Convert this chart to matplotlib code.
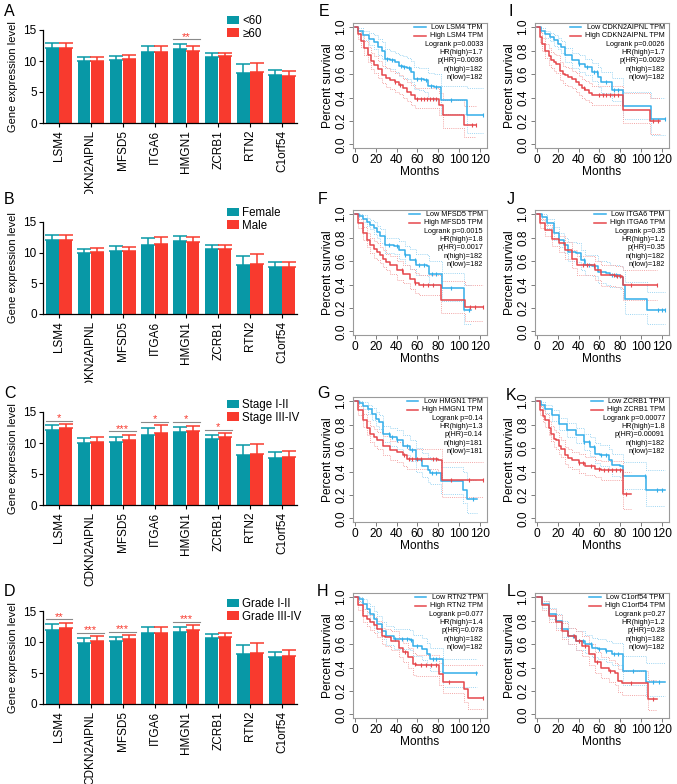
import numpy as np
import matplotlib
matplotlib.use('Agg')
import matplotlib.pyplot as plt
from matplotlib.patches import Patch
from matplotlib.transforms import Bbox, TransformedBbox

plt.rcParams['font.family'] = ['Liberation Sans', 'DejaVu Sans']

# ---------------- bar chart data ----------------
genes = ['LSM4', 'CDKN2AIPNL', 'MFSD5', 'ITGA6', 'HMGN1', 'ZCRB1', 'RTN2', 'C1orf54']

A_labels = ['<60', '≥60']
A_m1 = [12.1, 10.0, 10.2, 11.4, 11.9, 10.6, 8.0, 7.8]
A_s1 = [0.8, 0.7, 0.65, 1.1, 0.8, 0.65, 1.55, 0.75]
A_m2 = [12.1, 10.0, 10.35, 11.4, 11.6, 10.75, 8.25, 7.65]
A_s2 = [0.8, 0.65, 0.6, 0.95, 0.85, 0.6, 1.5, 0.75]
A_sig = [(4, '**', 13.5)]

B_labels = ['Female', 'Male']
B_m1 = [12.13, 9.9, 10.34, 11.3, 11.86, 10.67, 7.96, 7.74]
B_s1 = [0.81, 0.77, 0.7, 1.1, 0.81, 0.63, 1.57, 0.81]
B_m2 = [12.13, 10.07, 10.23, 11.47, 11.7, 10.67, 8.23, 7.69]
B_s2 = [0.81, 0.76, 0.65, 1.03, 0.8, 0.63, 1.57, 0.86]
B_sig = []

C_labels = ['Stage I-II', 'Stage III-IV']
C_m1 = [12.14, 9.98, 10.15, 11.28, 11.71, 10.69, 8.1, 7.66]
C_s1 = [0.81, 0.81, 0.75, 1.13, 0.81, 0.64, 1.56, 0.92]
C_m2 = [12.41, 10.15, 10.52, 11.66, 11.98, 10.9, 8.26, 7.72]
C_s2 = [0.7, 0.75, 0.76, 1.18, 0.81, 0.65, 1.51, 1.02]
C_sig = [(0, '*', 13.6), (2, '***', 11.9), (3, '*', 13.45), (4, '*', 13.45), (5, '*', 12.15)]

D_labels = ['Grade I-II', 'Grade III-IV']
D_m1 = [11.99, 9.89, 10.22, 11.4, 11.67, 10.7, 8.06, 7.63]
D_s1 = [0.86, 0.7, 0.59, 0.97, 0.75, 0.59, 1.51, 0.76]
D_m2 = [12.31, 10.22, 10.48, 11.5, 11.94, 10.81, 8.28, 7.8]
D_s2 = [0.7, 0.69, 0.65, 0.97, 0.75, 0.59, 1.5, 0.91]
D_sig = [(0, '**', 13.65), (1, '***', 11.5), (2, '***', 11.65), (4, '***', 13.25)]

# ---------------- Kaplan-Meier data ----------------
km_genes = ['LSM4', 'MFSD5', 'HMGN1', 'RTN2', 'CDKN2AIPNL', 'ITGA6', 'ZCRB1', 'C1orf54']
logrank_p = ['0.0033', '0.0015', '0.14', '0.077', '0.0026', '0.35', '0.00077', '0.27']
hr_high = ['1.7', '1.8', '1.3', '1.4', '1.7', '1.2', '1.8', '1.2']
p_hr = ['0.0036', '0.0017', '0.14', '0.078', '0.0029', '0.35', '0.00091', '0.28']
n_high = ['182', '182', '181', '182', '182', '182', '182', '182']
n_low = ['182', '182', '181', '182', '182', '182', '182', '182']

# E  LSM4
E_low_t = [0, 3, 8, 13, 18, 22, 26, 29, 34, 38, 42, 46, 50, 54, 57, 62, 66, 70, 76, 83, 108, 123]
E_low_s = [1.0, 0.97, 0.93, 0.90, 0.87, 0.83, 0.80, 0.73, 0.72, 0.70, 0.67, 0.66, 0.65, 0.62, 0.56, 0.555, 0.55, 0.50, 0.49, 0.38, 0.25, 0.25]
E_low_up = [1.0, 0.99, 0.97, 0.95, 0.93, 0.90, 0.87, 0.81, 0.80, 0.78, 0.76, 0.75, 0.74, 0.71, 0.66, 0.655, 0.65, 0.61, 0.60, 0.50, 0.48, 0.48]
E_low_lo = [1.0, 0.95, 0.89, 0.85, 0.81, 0.76, 0.73, 0.65, 0.64, 0.62, 0.58, 0.57, 0.56, 0.53, 0.47, 0.46, 0.45, 0.40, 0.38, 0.26, 0.10, 0.10]
E_low_c = [31, 36, 44, 47, 52, 60, 63, 68, 73, 78, 92, 123]
E_high_t = [0, 3, 6, 9, 12, 15, 18, 22, 26, 30, 34, 38, 42, 46, 50, 54, 58, 81, 85, 105, 116]
E_high_s = [1.0, 0.94, 0.88, 0.82, 0.76, 0.71, 0.68, 0.64, 0.59, 0.57, 0.55, 0.53, 0.51, 0.48, 0.45, 0.42, 0.39, 0.34, 0.25, 0.165, 0.165]
E_high_up = [1.0, 0.97, 0.93, 0.88, 0.83, 0.78, 0.75, 0.71, 0.67, 0.65, 0.63, 0.61, 0.59, 0.56, 0.53, 0.51, 0.48, 0.44, 0.38, 0.33, 0.33]
E_high_lo = [1.0, 0.90, 0.83, 0.76, 0.70, 0.64, 0.61, 0.57, 0.52, 0.49, 0.47, 0.45, 0.43, 0.40, 0.37, 0.34, 0.31, 0.25, 0.14, 0.06, 0.06]
E_high_c = [38, 43, 60, 63, 66, 69, 72, 75, 78, 113, 116]

# F  MFSD5
F_low_t = [0, 4, 8, 11, 14, 18, 21, 24, 29, 37, 42, 48, 53, 59, 69, 71, 84, 105, 112]
F_low_s = [1.0, 0.98, 0.96, 0.935, 0.91, 0.88, 0.85, 0.81, 0.735, 0.73, 0.69, 0.65, 0.61, 0.565, 0.555, 0.49, 0.37, 0.185, 0.185]
F_low_up = [1.0, 1.0, 0.99, 0.97, 0.95, 0.93, 0.90, 0.87, 0.80, 0.80, 0.77, 0.73, 0.70, 0.66, 0.65, 0.60, 0.50, 0.40, 0.40]
F_low_lo = [1.0, 0.96, 0.93, 0.90, 0.87, 0.83, 0.80, 0.75, 0.67, 0.66, 0.62, 0.57, 0.53, 0.48, 0.47, 0.40, 0.26, 0.06, 0.06]
F_low_c = [33, 40, 48, 58, 62, 66, 74, 78, 92, 110]
F_high_t = [0, 3, 8, 11, 14, 18, 21, 24, 27, 30, 34, 40, 46, 53, 58, 62, 83, 106, 123]
F_high_s = [1.0, 0.92, 0.835, 0.78, 0.735, 0.70, 0.68, 0.65, 0.62, 0.59, 0.565, 0.52, 0.49, 0.445, 0.41, 0.395, 0.265, 0.205, 0.205]
F_high_up = [1.0, 0.96, 0.89, 0.84, 0.80, 0.77, 0.75, 0.72, 0.69, 0.66, 0.64, 0.60, 0.57, 0.53, 0.50, 0.48, 0.43, 0.40, 0.40]
F_high_lo = [1.0, 0.88, 0.78, 0.72, 0.67, 0.63, 0.61, 0.58, 0.55, 0.52, 0.49, 0.44, 0.41, 0.36, 0.33, 0.31, 0.16, 0.09, 0.09]
F_high_c = [45, 58, 65, 70, 75, 111, 115, 123]

# G  HMGN1
G_low_t = [0, 4, 8, 12, 16, 20, 23, 27, 34, 40, 46, 53, 59, 64, 70, 72, 83, 104, 108, 117]
G_low_s = [1.0, 0.98, 0.96, 0.93, 0.89, 0.85, 0.82, 0.72, 0.69, 0.665, 0.62, 0.58, 0.495, 0.45, 0.41, 0.39, 0.32, 0.24, 0.165, 0.165]
G_low_up = [1.0, 1.0, 0.99, 0.97, 0.94, 0.91, 0.88, 0.79, 0.77, 0.75, 0.71, 0.67, 0.60, 0.56, 0.52, 0.50, 0.44, 0.40, 0.33, 0.33]
G_low_lo = [1.0, 0.96, 0.93, 0.89, 0.84, 0.79, 0.76, 0.65, 0.62, 0.59, 0.54, 0.49, 0.40, 0.35, 0.31, 0.29, 0.21, 0.13, 0.05, 0.05]
G_low_c = [33, 36, 40, 50, 55, 74, 78, 114]
G_high_t = [0, 3, 8, 11, 14, 18, 21, 27, 34, 40, 46, 50, 80, 84, 123]
G_high_s = [1.0, 0.92, 0.835, 0.77, 0.72, 0.69, 0.665, 0.62, 0.58, 0.565, 0.54, 0.505, 0.495, 0.325, 0.325]
G_high_up = [1.0, 0.96, 0.89, 0.83, 0.79, 0.76, 0.74, 0.70, 0.66, 0.65, 0.62, 0.59, 0.59, 0.48, 0.48]
G_high_lo = [1.0, 0.88, 0.78, 0.71, 0.65, 0.62, 0.59, 0.54, 0.50, 0.48, 0.45, 0.42, 0.40, 0.18, 0.18]
G_high_c = [47, 52, 55, 60, 63, 75, 78, 92, 110, 123]

# H  RTN2
H_low_t = [0, 4, 8, 11, 14, 18, 21, 26, 30, 37, 53, 56, 64, 69, 72, 85, 117]
H_low_s = [1.0, 0.98, 0.94, 0.90, 0.857, 0.81, 0.77, 0.714, 0.67, 0.643, 0.637, 0.586, 0.557, 0.514, 0.47, 0.35, 0.35]
H_low_up = [1.0, 1.0, 0.98, 0.95, 0.92, 0.88, 0.84, 0.79, 0.75, 0.73, 0.72, 0.68, 0.65, 0.61, 0.57, 0.47, 0.47]
H_low_lo = [1.0, 0.96, 0.90, 0.85, 0.80, 0.74, 0.70, 0.64, 0.59, 0.56, 0.55, 0.50, 0.46, 0.42, 0.37, 0.23, 0.23]
H_low_c = [38, 45, 50, 54, 60, 75, 78, 116]
H_high_t = [0, 3, 8, 11, 14, 18, 21, 26, 29, 35, 42, 46, 51, 56, 59, 81, 85, 105, 109, 123]
H_high_s = [1.0, 0.93, 0.843, 0.81, 0.786, 0.76, 0.73, 0.67, 0.657, 0.63, 0.57, 0.53, 0.486, 0.43, 0.42, 0.343, 0.28, 0.214, 0.143, 0.143]
H_high_up = [1.0, 0.97, 0.90, 0.87, 0.85, 0.83, 0.80, 0.74, 0.73, 0.71, 0.65, 0.61, 0.57, 0.52, 0.51, 0.44, 0.42, 0.42, 0.42, 0.42]
H_high_lo = [1.0, 0.89, 0.79, 0.75, 0.72, 0.69, 0.66, 0.60, 0.58, 0.55, 0.49, 0.45, 0.40, 0.34, 0.33, 0.25, 0.18, 0.11, 0.05, 0.05]
H_high_c = [48, 58, 63, 68, 73, 78, 90, 123]

# I  CDKN2AIPNL
I_low_t = [0, 4, 8, 12, 16, 20, 23, 27, 34, 40, 46, 53, 59, 62, 72, 83, 110, 123]
I_low_s = [1.0, 0.97, 0.943, 0.915, 0.886, 0.86, 0.83, 0.76, 0.716, 0.688, 0.66, 0.616, 0.574, 0.53, 0.466, 0.324, 0.22, 0.22]
I_low_up = [1.0, 0.99, 0.97, 0.95, 0.93, 0.91, 0.88, 0.82, 0.78, 0.76, 0.73, 0.69, 0.66, 0.62, 0.57, 0.45, 0.40, 0.40]
I_low_lo = [1.0, 0.95, 0.91, 0.88, 0.84, 0.81, 0.78, 0.70, 0.65, 0.62, 0.59, 0.54, 0.49, 0.44, 0.37, 0.22, 0.08, 0.08]
I_low_c = [40, 48, 55, 58, 66, 74, 78, 123]
I_high_t = [0, 3, 5, 8, 11, 13, 16, 18, 22, 25, 27, 30, 34, 37, 40, 43, 46, 50, 53, 83, 109, 118]
I_high_s = [1.0, 0.915, 0.86, 0.80, 0.75, 0.716, 0.70, 0.688, 0.63, 0.60, 0.588, 0.575, 0.56, 0.53, 0.503, 0.48, 0.46, 0.44, 0.418, 0.29, 0.20, 0.20]
I_high_up = [1.0, 0.96, 0.91, 0.86, 0.82, 0.79, 0.77, 0.76, 0.70, 0.67, 0.66, 0.65, 0.63, 0.61, 0.58, 0.56, 0.54, 0.52, 0.50, 0.44, 0.40, 0.40]
I_high_lo = [1.0, 0.87, 0.80, 0.74, 0.68, 0.65, 0.63, 0.61, 0.55, 0.52, 0.51, 0.50, 0.48, 0.45, 0.42, 0.40, 0.38, 0.36, 0.34, 0.18, 0.09, 0.09]
I_high_c = [45, 60, 63, 66, 70, 74, 78, 112, 116]

# J  ITGA6
J_low_t = [0, 5, 10, 16, 21, 26, 30, 37, 42, 46, 53, 59, 66, 70, 80, 83, 85, 106, 123]
J_low_s = [1.0, 0.977, 0.92, 0.835, 0.78, 0.735, 0.68, 0.672, 0.607, 0.564, 0.56, 0.507, 0.50, 0.48, 0.465, 0.40, 0.28, 0.18, 0.18]
J_low_up = [1.0, 1.0, 0.96, 0.89, 0.84, 0.80, 0.76, 0.75, 0.69, 0.65, 0.65, 0.60, 0.59, 0.57, 0.56, 0.52, 0.42, 0.34, 0.34]
J_low_lo = [1.0, 0.95, 0.88, 0.78, 0.72, 0.67, 0.60, 0.59, 0.52, 0.48, 0.47, 0.41, 0.40, 0.38, 0.36, 0.28, 0.15, 0.06, 0.06]
J_low_c = [45, 50, 55, 72, 76, 116, 120, 123]
J_high_t = [0, 3, 8, 14, 21, 27, 34, 38, 50, 56, 62, 75, 82, 83, 115]
J_high_s = [1.0, 0.92, 0.863, 0.79, 0.75, 0.69, 0.62, 0.564, 0.564, 0.52, 0.48, 0.473, 0.465, 0.393, 0.393]
J_high_up = [1.0, 0.96, 0.91, 0.85, 0.81, 0.76, 0.69, 0.64, 0.64, 0.60, 0.57, 0.56, 0.55, 0.52, 0.52]
J_high_lo = [1.0, 0.88, 0.81, 0.73, 0.68, 0.62, 0.54, 0.48, 0.48, 0.44, 0.39, 0.38, 0.37, 0.27, 0.27]
J_high_c = [44, 48, 55, 74, 77, 80, 90, 115]

# K  ZCRB1
K_low_t = [0, 4, 8, 14, 21, 29, 37, 45, 51, 56, 61, 69, 72, 80, 83, 105, 123]
K_low_s = [1.0, 0.97, 0.935, 0.878, 0.807, 0.75, 0.708, 0.65, 0.61, 0.552, 0.538, 0.496, 0.453, 0.445, 0.36, 0.24, 0.24]
K_low_up = [1.0, 0.99, 0.97, 0.92, 0.86, 0.81, 0.77, 0.72, 0.69, 0.64, 0.63, 0.59, 0.55, 0.55, 0.48, 0.41, 0.41]
K_low_lo = [1.0, 0.95, 0.90, 0.83, 0.75, 0.69, 0.64, 0.58, 0.53, 0.47, 0.45, 0.41, 0.36, 0.35, 0.25, 0.11, 0.11]
K_low_c = [45, 50, 55, 62, 66, 104, 115, 120]
K_high_t = [0, 3, 6, 8, 11, 13, 16, 18, 21, 23, 27, 30, 34, 40, 46, 56, 62, 83, 90]
K_high_s = [1.0, 0.92, 0.87, 0.835, 0.77, 0.722, 0.68, 0.665, 0.62, 0.595, 0.538, 0.515, 0.496, 0.473, 0.445, 0.425, 0.41, 0.212, 0.212]
K_high_up = [1.0, 0.96, 0.92, 0.89, 0.83, 0.79, 0.75, 0.74, 0.69, 0.67, 0.61, 0.59, 0.57, 0.55, 0.52, 0.50, 0.49, 0.40, 0.40]
K_high_lo = [1.0, 0.88, 0.82, 0.78, 0.71, 0.66, 0.61, 0.59, 0.55, 0.52, 0.46, 0.44, 0.42, 0.39, 0.37, 0.35, 0.33, 0.08, 0.08]
K_high_c = [40, 44, 52, 60, 64, 68, 72, 76, 80, 86]

# L  C1orf54
L_low_t = [0, 5, 11, 18, 24, 30, 37, 46, 53, 59, 66, 72, 83, 105, 123]
L_low_s = [1.0, 0.943, 0.857, 0.80, 0.73, 0.67, 0.63, 0.60, 0.57, 0.557, 0.543, 0.514, 0.37, 0.277, 0.277]
L_low_up = [1.0, 0.97, 0.91, 0.86, 0.80, 0.74, 0.71, 0.68, 0.65, 0.64, 0.63, 0.61, 0.50, 0.44, 0.44]
L_low_lo = [1.0, 0.91, 0.81, 0.74, 0.66, 0.60, 0.55, 0.52, 0.49, 0.47, 0.45, 0.42, 0.25, 0.16, 0.16]
L_low_c = [35, 40, 44, 52, 60, 66, 74, 78, 92, 112, 117]
L_high_t = [0, 5, 11, 18, 24, 30, 37, 43, 50, 56, 62, 69, 75, 78, 82, 107, 115]
L_high_s = [1.0, 0.93, 0.843, 0.786, 0.714, 0.67, 0.63, 0.586, 0.514, 0.443, 0.40, 0.37, 0.35, 0.286, 0.266, 0.13, 0.13]
L_high_up = [1.0, 0.97, 0.90, 0.85, 0.78, 0.74, 0.71, 0.67, 0.60, 0.53, 0.49, 0.46, 0.44, 0.39, 0.37, 0.29, 0.29]
L_high_lo = [1.0, 0.89, 0.79, 0.72, 0.64, 0.60, 0.55, 0.50, 0.42, 0.35, 0.31, 0.28, 0.25, 0.19, 0.17, 0.04, 0.04]
L_high_c = [36, 40, 46, 58, 70, 90, 112]

# ---------------- styling ----------------
TEAL = '#0898A6'
BRED = '#F83A2E'
KBLUE = '#33AEEA'
KRED = '#E5474B'
KBLUE_CI = '#9ED6F3'
KRED_CI = '#F3A6A6'

W, H = 677, 784
fig = plt.figure(figsize=(W / 100, H / 100), dpi=100)


def px_axes(left, top, right, bottom):
    return fig.add_axes([left / W, 1 - bottom / H, (right - left) / W, (bottom - top) / H])


def bar_panel(top, bottom, m1, s1, m2, s2, labels, sig, legend_top, clip_y=None):
    ax = px_axes(43, top, 297, bottom)
    x = np.arange(len(genes))
    w, off = 0.4, 0.21
    ax.bar(x - off, m1, w, color=TEAL, zorder=2)
    ax.bar(x + off, m2, w, color=BRED, zorder=2)
    ax.errorbar(x - off, m1, yerr=[np.zeros(len(m1)), s1], fmt='none', ecolor=TEAL,
                elinewidth=1.1, capsize=5, capthick=1.1, zorder=1)
    ax.errorbar(x + off, m2, yerr=[np.zeros(len(m2)), s2], fmt='none', ecolor=BRED,
                elinewidth=1.1, capsize=5, capthick=1.1, zorder=1)
    ax.set_xlim(-0.5, 7.47)
    ax.set_ylim(0, 15)
    ax.set_yticks([0, 5, 10, 15])
    ax.set_xticks(x)
    ax.set_xticklabels(genes, rotation=90, fontsize=8.5)
    ax.tick_params(axis='y', labelsize=8.5, length=3, width=0.8, pad=1.5)
    ax.tick_params(axis='x', length=3, width=0.8, pad=2)
    for sp in ['top', 'right']:
        ax.spines[sp].set_visible(False)
    for sp in ['left', 'bottom']:
        ax.spines[sp].set_linewidth(0.9)
    ax.set_ylabel('Gene expression level', fontsize=8, labelpad=4)
    for gi, stars, yv in sig:
        ax.plot([gi - 0.42, gi + 0.42], [yv, yv], color='#8a8a8a', lw=0.8, clip_on=False)
        ax.text(gi, yv - 0.1, stars, color=BRED, ha='center', va='baseline', fontsize=8,
                clip_on=False)
    handles = [Patch(facecolor=TEAL, label=labels[0]), Patch(facecolor=BRED, label=labels[1])]
    hpx = bottom - top
    ax.legend(handles=handles, loc='upper left',
              bbox_to_anchor=(0.724, 1 + (top - legend_top) / hpx),
              frameon=False, fontsize=8.3, handlelength=1.05, handleheight=0.8,
              handletextpad=0.3, labelspacing=0.05, borderpad=0, borderaxespad=0)
    if clip_y is not None:
        cb = TransformedBbox(Bbox([[0, 1 - clip_y / H], [1, 1]]), fig.transFigure)
        for lbl in ax.get_xticklabels():
            lbl.set_clip_box(cb)
            lbl.set_clip_on(True)
    return ax


bar_panel(30, 123, A_m1, A_s1, A_m2, A_s2, A_labels, A_sig, 15, clip_y=194)
bar_panel(222, 314, B_m1, B_s1, B_m2, B_s2, B_labels, B_sig, 207, clip_y=383)
bar_panel(412, 505, C_m1, C_s1, C_m2, C_s2, C_labels, C_sig, 399)
bar_panel(611, 704, D_m1, D_s1, D_m2, D_s2, D_labels, D_sig, 598)


def step_at(t, s, x):
    idx = np.searchsorted(np.asarray(t), np.asarray(x), side='right') - 1
    return np.asarray(s)[idx]


km_axes = []


def km_panel(left, top, idx, low, high):
    ax = px_axes(left, top, left + 134, top + 125)
    for (t, s, up, lo, c), col, cic in [(low, KBLUE, KBLUE_CI), (high, KRED, KRED_CI)]:
        ax.step(t, up, where='post', color=cic, lw=0.7, ls=(0, (1, 1.2)))
        ax.step(t, lo, where='post', color=cic, lw=0.7, ls=(0, (1, 1.2)))
    for (t, s, up, lo, c), col in [(low, KBLUE), (high, KRED)]:
        ax.step(t, s, where='post', color=col, lw=1.1)
        ax.plot(c, step_at(t, s, c), ls='none', marker='|', color=col, ms=3.5, mew=0.8)
    ax.set_xlim(-2, 127)
    ax.set_ylim(-0.03, 1.035)
    ax.set_xticks([0, 20, 40, 60, 80, 100, 120])
    ax.set_yticks([0, 0.2, 0.4, 0.6, 0.8, 1.0])
    ax.set_yticklabels(['0.0', '0.2', '0.4', '0.6', '0.8', '1.0'], rotation=90, va='center')
    ax.tick_params(labelsize=8.6, length=3, width=0.6, color='#666666', pad=1)
    for sp in ax.spines.values():
        sp.set_color('#9a9a9a')
        sp.set_linewidth(0.8)
    ax.set_xlabel('Months', fontsize=8.6, labelpad=0)
    ax.set_ylabel('Percent survival', fontsize=8.6, labelpad=1)
    g = km_genes[idx]
    lines = [f'Low {g} TPM', f'High {g} TPM', f'Logrank p={logrank_p[idx]}',
             f'HR(high)={hr_high[idx]}', f'p(HR)={p_hr[idx]}',
             f'n(high)={n_high[idx]}', f'n(low)={n_low[idx]}']
    txts = []
    for i, tx in enumerate(lines):
        txts.append(ax.text(0.97, 0.965 - i * 0.067, tx, transform=ax.transAxes,
                            ha='right', va='center', fontsize=5.2))
    km_axes.append((ax, txts))


def curve(t, s, up, lo, c):
    return (t, s, up, lo, c)


km_panel(353, 23, 0, curve(E_low_t, E_low_s, E_low_up, E_low_lo, E_low_c),
         curve(E_high_t, E_high_s, E_high_up, E_high_lo, E_high_c))
km_panel(353, 210, 1, curve(F_low_t, F_low_s, F_low_up, F_low_lo, F_low_c),
         curve(F_high_t, F_high_s, F_high_up, F_high_lo, F_high_c))
km_panel(353, 397, 2, curve(G_low_t, G_low_s, G_low_up, G_low_lo, G_low_c),
         curve(G_high_t, G_high_s, G_high_up, G_high_lo, G_high_c))
km_panel(353, 593, 3, curve(H_low_t, H_low_s, H_low_up, H_low_lo, H_low_c),
         curve(H_high_t, H_high_s, H_high_up, H_high_lo, H_high_c))
km_panel(535, 23, 4, curve(I_low_t, I_low_s, I_low_up, I_low_lo, I_low_c),
         curve(I_high_t, I_high_s, I_high_up, I_high_lo, I_high_c))
km_panel(535, 210, 5, curve(J_low_t, J_low_s, J_low_up, J_low_lo, J_low_c),
         curve(J_high_t, J_high_s, J_high_up, J_high_lo, J_high_c))
km_panel(535, 397, 6, curve(K_low_t, K_low_s, K_low_up, K_low_lo, K_low_c),
         curve(K_high_t, K_high_s, K_high_up, K_high_lo, K_high_c))
km_panel(535, 593, 7, curve(L_low_t, L_low_s, L_low_up, L_low_lo, L_low_c),
         curve(L_high_t, L_high_s, L_high_up, L_high_lo, L_high_c))

# panel letters
letters = [('A', 4, 12), ('B', 4, 200), ('C', 4, 393), ('D', 4, 592),
           ('E', 319, 12), ('F', 318, 200), ('G', 317, 393), ('H', 317, 592),
           ('I', 508, 11), ('J', 507, 200), ('K', 506, 395), ('L', 507, 592)]
for lt, lx, ly in letters:
    fig.text(lx / W, 1 - ly / H, lt, fontsize=11.5, ha='left', va='center')

# legend lines for KM panels, placed left of the longest label
fig.canvas.draw()
renderer = fig.canvas.get_renderer()
for ax, txts in km_axes:
    inv = ax.transAxes.inverted()
    x0 = min(inv.transform((txts[k].get_window_extent(renderer).x0, 0))[0] for k in (0, 1))
    for k, col in [(0, KBLUE), (1, KRED)]:
        yy = txts[k].get_position()[1]
        ax.plot([x0 - 0.115, x0 - 0.03], [yy, yy], color=col, lw=1.1, transform=ax.transAxes)

fig.savefig('out.png', dpi=100)
